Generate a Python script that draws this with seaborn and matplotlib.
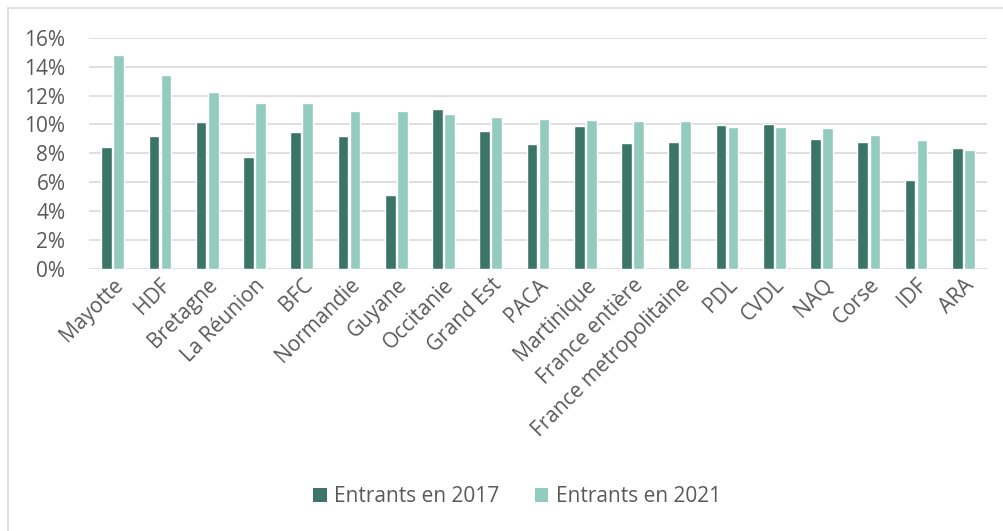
import matplotlib
matplotlib.use("Agg")
import matplotlib.pyplot as plt
import seaborn as sns
import pandas as pd
from matplotlib.ticker import PercentFormatter
from matplotlib.patches import Patch, Rectangle

regions = ["Mayotte", "HDF", "Bretagne", "La Réunion", "BFC", "Normandie", "Guyane",
           "Occitanie", "Grand Est", "PACA", "Martinique", "France entière",
           "France metropolitaine", "PDL", "CVDL", "NAQ", "Corse", "IDF", "ARA"]
entrants_2017 = [8.44, 9.18, 10.14, 7.72, 9.45, 9.18, 5.12, 11.04, 9.54, 8.67, 9.89,
                 8.71, 8.78, 9.94, 10.03, 8.97, 8.76, 6.16, 8.37]
entrants_2021 = [14.80, 13.39, 12.26, 11.48, 11.46, 10.93, 10.93, 10.72, 10.54, 10.37,
                 10.33, 10.24, 10.21, 9.84, 9.82, 9.75, 9.24, 8.90, 8.21]
series_names = ["Entrants en 2017", "Entrants en 2021"]
colors = ["#3A7568", "#93CBBF"]

df = pd.DataFrame({
    "region": regions * 2,
    "value": [v / 100 for v in entrants_2017] + [v / 100 for v in entrants_2021],
    "serie": [series_names[0]] * len(regions) + [series_names[1]] * len(regions),
})

sns.set_theme(style="white")
plt.rcParams["font.family"] = ["Open Sans", "DejaVu Sans"]
text_color = "#595959"
fs = 15

fig = plt.figure(figsize=(10.04, 5.31), dpi=100)
fig.patches.append(Rectangle((8 / 1004, -0.05), 1.1, 1.05 - 8 / 531,
                             transform=fig.transFigure, fill=False,
                             edgecolor="#D9D9D9", linewidth=1.2))
ax = fig.add_axes([89 / 1004, 1 - 269 / 531, (987 - 89) / 1004, (269 - 37.7) / 531])

sns.barplot(data=df, x="region", y="value", hue="serie", palette=colors,
            width=0.51, gap=0.11, ax=ax, legend=False, saturation=1)

ax.set_ylim(0, 0.16)
ax.set_yticks([i * 0.02 for i in range(9)])
ax.yaxis.set_major_formatter(PercentFormatter(1.0, decimals=0))
ax.grid(axis="y", color="#D9D9D9", linewidth=1.2)
ax.set_axisbelow(True)
for s in ax.spines.values():
    s.set_visible(False)
ax.set_xlabel("")
ax.set_ylabel("")
ax.tick_params(axis="both", length=0, colors=text_color, labelsize=fs)
ax.tick_params(axis="y", pad=17)
ax.tick_params(axis="x", pad=4)
ax.set_xlim(-0.5, len(regions) - 0.5)
for lbl in ax.get_xticklabels():
    lbl.set_rotation(45)
    lbl.set_ha("right")
    lbl.set_rotation_mode("anchor")
    lbl.set_color(text_color)

handles = [Patch(facecolor=c, edgecolor="none") for c in colors]
leg = fig.legend(handles, series_names, loc="center", bbox_to_anchor=(0.515, 1 - 497 / 531),
                 ncol=2, frameon=False, fontsize=fs, handlelength=0.65, handleheight=0.65,
                 handletextpad=0.35, columnspacing=1.7)
for t in leg.get_texts():
    t.set_color(text_color)

fig.savefig("out.png", dpi=100)
